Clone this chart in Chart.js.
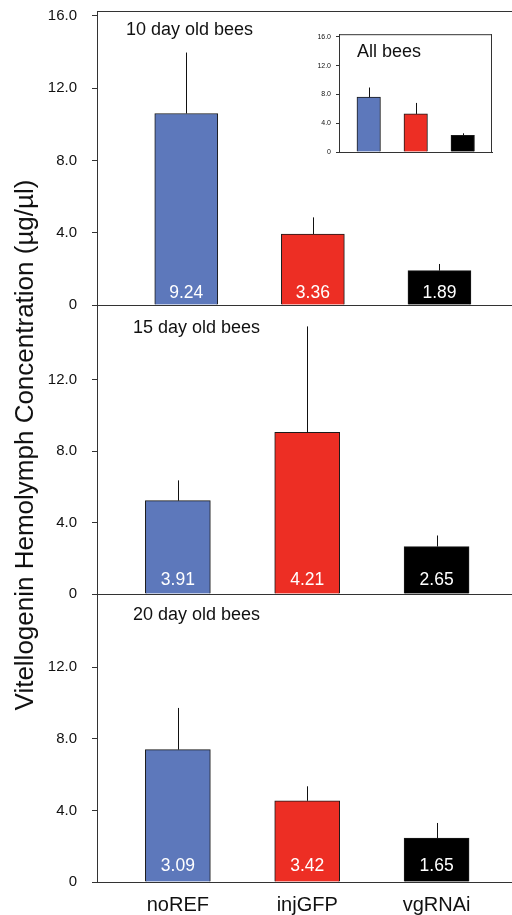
<!DOCTYPE html>
<html>
<head>
<meta charset="utf-8">
<script src="https://cdn.jsdelivr.net/npm/chart.js@4.4.1/dist/chart.umd.min.js"></script>
<style>
  html, body { margin: 0; padding: 0; background: #fff; }
  .figure { position: relative; width: 512px; height: 915px; overflow: hidden; background: #fff; }
  .figure canvas { position: absolute; }
  #day10 { left: 0; top: -13px; }
  #day15 { left: 0; top: 281px; }
  #day20 { left: 0; top: 570px; }
  #allBees { left: 300px; top: 25px; }
  .y-title {
    position: absolute;
    left: -276px;
    top: 430px;
    width: 600px;
    height: 30px;
    line-height: 30px;
    text-align: center;
    font-family: "Liberation Sans", Arial, sans-serif;
    font-size: 26px;
    color: #111;
    transform: rotate(-90deg);
    white-space: nowrap;
  }
</style>
</head>
<body>
<div class="figure">
  <canvas id="day10" width="512" height="342"></canvas>
  <canvas id="day15" width="512" height="337"></canvas>
  <canvas id="day20" width="512" height="345"></canvas>
  <canvas id="allBees" width="200" height="140"></canvas>
  <div class="y-title">Vitellogenin Hemolymph Concentration (µg/µl)</div>
</div>

<script>
// groups (bar order) and their x positions on the linear axis
const groups = ["noREF", "injGFP", "vgRNAi"];
const groupPos = [1, 2, 3];
const barColors = ["#5d78bb", "#ed2e24", "#000000"];

// 10 day old bees
const day10Means = [10.6, 3.93, 1.9];
const day10Errors = [3.37, 0.92, 0.37];
const day10Labels = ["9.24", "3.36", "1.89"];

// 15 day old bees
const day15Means = [5.23, 9.06, 2.66];
const day15Errors = [1.14, 5.94, 0.62];
const day15Labels = ["3.91", "4.21", "2.65"];

// 20 day old bees
const day20Means = [7.4, 4.54, 2.46];
const day20Errors = [2.33, 0.81, 0.84];
const day20Labels = ["3.09", "3.42", "1.65"];

// inset: all bees
const allMeans = [7.62, 5.29, 2.32];
const allErrors = [1.34, 1.53, 0.28];

// tick labels
const topTicks = [0, 4, 8, 12, 16];
const lowerTicks = [0, 4, 8, 12];
const insetTicks = [0, 4, 8, 12, 16];

const FONT = "'Liberation Sans', Arial, sans-serif";
const AXIS_COLOR = "#333";

function fmtTick(v) {
  return v === 0 ? "0" : v.toFixed(1);
}

// error bars, value labels, panel title and frame lines
const panelDecor = {
  id: "panelDecor",
  afterDatasetsDraw(chart, args, opts) {
    const ctx = chart.ctx;
    const x = chart.scales.x;
    const y = chart.scales.y;
    const area = chart.chartArea;

    ctx.save();
    // frame
    ctx.strokeStyle = AXIS_COLOR;
    ctx.lineWidth = 1;
    ctx.beginPath();
    ctx.moveTo(area.left, area.top + 0.5);
    ctx.lineTo(area.right, area.top + 0.5);
    if (opts.box) {
      ctx.moveTo(area.right - 0.5, area.top);
      ctx.lineTo(area.right - 0.5, area.bottom);
    }
    ctx.stroke();

    // error bars (upper only)
    ctx.strokeStyle = "#111";
    ctx.lineWidth = 1;
    opts.means.forEach((m, i) => {
      const px = Math.round(x.getPixelForValue(groupPos[i])) + 0.5;
      ctx.beginPath();
      ctx.moveTo(px, y.getPixelForValue(m));
      ctx.lineTo(px, y.getPixelForValue(m + opts.errors[i]));
      ctx.stroke();
    });

    // value labels inside bars
    if (opts.labels) {
      ctx.fillStyle = "#fff";
      ctx.font = "17.5px " + FONT;
      ctx.textAlign = "center";
      ctx.textBaseline = "alphabetic";
      opts.labels.forEach((t, i) => {
        ctx.fillText(t, x.getPixelForValue(groupPos[i]), y.getPixelForValue(0) - opts.labelOffset);
      });
    }

    // panel title
    ctx.fillStyle = "#111";
    ctx.font = "18px " + FONT;
    ctx.textAlign = "left";
    ctx.textBaseline = "alphabetic";
    ctx.fillText(opts.title, opts.titleX, opts.titleY);
    ctx.restore();
  },
};

function makePanel(id, cfg) {
  const ctx = document.getElementById(id).getContext("2d");

  const data = {
    datasets: [
      {
        data: cfg.means.map((v, i) => ({ x: groupPos[i], y: v })),
        backgroundColor: barColors,
        borderColor: "#1a1a1a",
        borderWidth: 1,
        barThickness: cfg.barWidth,
      },
    ],
  };

  const config = {
    type: "bar",
    data: data,
    plugins: [panelDecor],
    options: {
      responsive: false,
      animation: false,
      devicePixelRatio: 1,
      layout: {
        padding: { top: cfg.padTop, right: cfg.padRight || 0, left: 0, bottom: 0 },
      },
      plugins: {
        legend: { display: false },
        tooltip: { enabled: false },
        panelDecor: {
          means: cfg.means,
          errors: cfg.errors,
          labels: cfg.labels,
          labelOffset: cfg.labelOffset,
          title: cfg.title,
          titleX: cfg.titleX,
          titleY: cfg.titleY,
          box: cfg.box,
        },
      },
      scales: {
        x: {
          type: "linear",
          offset: false,
          min: cfg.xMin,
          max: cfg.xMax,
          afterBuildTicks: (scale) => {
            scale.ticks = groupPos.map((v) => ({ value: v }));
          },
          afterFit: (scale) => {
            scale.height = cfg.xHeight;
          },
          grid: { display: false, drawTicks: false, tickLength: 0 },
          border: { display: true, color: AXIS_COLOR, width: 1 },
          ticks: {
            display: cfg.showGroups,
            padding: 11,
            color: "#111",
            font: { family: FONT, size: 20 },
            callback: (v) => groups[groupPos.indexOf(v)],
          },
        },
        y: {
          min: 0,
          max: cfg.yMax,
          afterBuildTicks: (scale) => {
            scale.ticks = cfg.yTicks.map((v) => ({ value: v }));
          },
          afterFit: (scale) => {
            scale.width = cfg.yWidth;
          },
          grid: {
            drawOnChartArea: false,
            drawTicks: true,
            tickLength: cfg.tickLen,
            color: AXIS_COLOR,
          },
          border: { display: true, color: AXIS_COLOR, width: 1 },
          ticks: {
            padding: cfg.tickPad,
            color: "#111",
            font: { family: FONT, size: cfg.tickFont },
            callback: (v) => fmtTick(v),
          },
        },
      },
    },
  };

  new Chart(ctx, config);
}

document.addEventListener("DOMContentLoaded", function () {
  // y tick padding (15) + half label height makes the chart area start 24px inside each canvas
  makePanel("day10", {
    means: day10Means, errors: day10Errors, labels: day10Labels, labelOffset: 7,
    title: "10 day old bees", titleX: 126, titleY: 48,
    yTicks: topTicks, yMax: 16.27, xMin: 0.295, xMax: 3.573,
    barWidth: 63, padTop: 0, xHeight: 15, yWidth: 97,
    tickLen: 5, tickPad: 15, tickFont: 15, showGroups: false,
  });

  makePanel("day15", {
    means: day15Means, errors: day15Errors, labels: day15Labels, labelOffset: 9.5,
    title: "15 day old bees", titleX: 133, titleY: 51.7,
    yTicks: lowerTicks, yMax: 16.2, xMin: 0.375, xMax: 3.583,
    barWidth: 65, padTop: 0, xHeight: 16, yWidth: 97,
    tickLen: 5, tickPad: 15, tickFont: 15, showGroups: false,
  });

  makePanel("day20", {
    means: day20Means, errors: day20Errors, labels: day20Labels, labelOffset: 11,
    title: "20 day old bees", titleX: 133, titleY: 50,
    yTicks: lowerTicks, yMax: 16.1, xMin: 0.375, xMax: 3.583,
    barWidth: 65, padTop: 0, xHeight: 33, yWidth: 97,
    tickLen: 5, tickPad: 15, tickFont: 15, showGroups: true,
  });

  makePanel("allBees", {
    means: allMeans, errors: allErrors, labels: null,
    title: "All bees", titleX: 57, titleY: 31.7,
    yTicks: insetTicks, yMax: 16.37, xMin: 0.368, xMax: 3.623,
    barWidth: 23.5, padTop: 9, padRight: 8, xHeight: 13, yWidth: 39,
    tickLen: 3, tickPad: 5, tickFont: 7, showGroups: false, box: true,
  });
});
</script>
</body>
</html>
